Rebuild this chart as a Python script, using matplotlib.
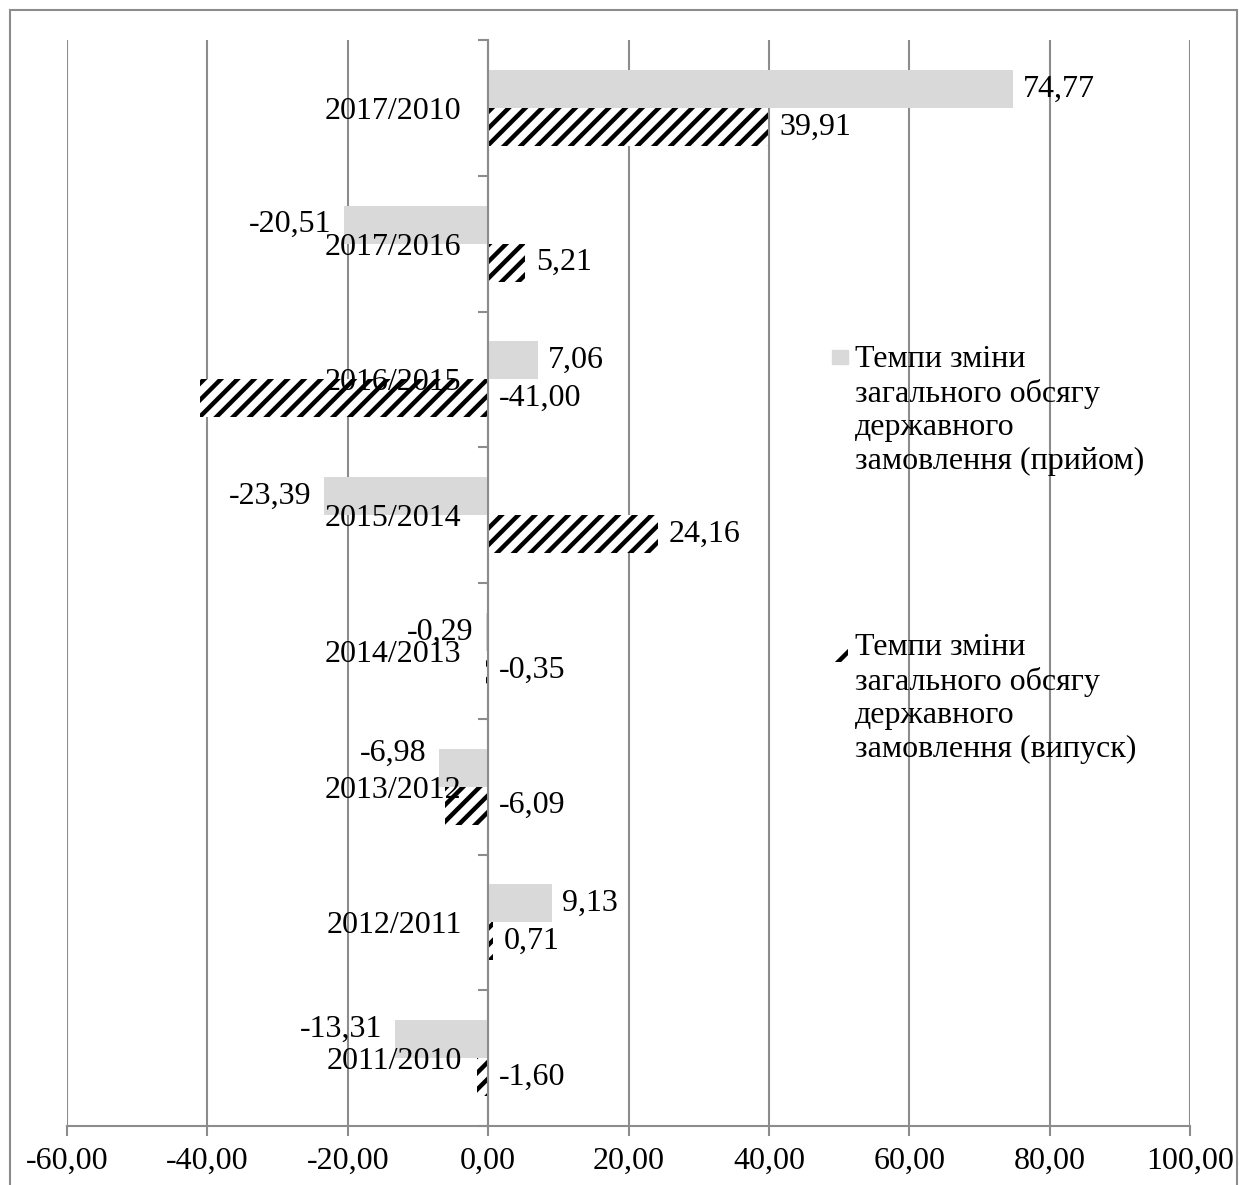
import matplotlib
matplotlib.use('Agg')
import matplotlib.pyplot as plt
from matplotlib.patches import Rectangle
from matplotlib.ticker import FuncFormatter

# Дані (знизу вгору)
periods = ['2011/2010', '2012/2011', '2013/2012', '2014/2013',
           '2015/2014', '2016/2015', '2017/2016', '2017/2010']
intake = [-13.31, 9.13, -6.98, -0.29, -23.39, 7.06, -20.51, 74.77]
graduates = [-1.60, 0.71, -6.09, -0.35, 24.16, -41.00, 5.21, 39.91]
x_ticks = [-60, -40, -20, 0, 20, 40, 60, 80, 100]
legend_labels = ['Темпи зміни\nзагального обсягу\nдержавного\nзамовлення (прийом)',
                 'Темпи зміни\nзагального обсягу\nдержавного\nзамовлення (випуск)']

# зсув підписів прийому вгору (пікселі), як на оригіналі
intake_nudge = [10, 0, 14, 0, 0, 0, 0, 0]

plt.rcParams['font.family'] = ['Liberation Serif', 'DejaVu Serif']
plt.rcParams['hatch.linewidth'] = 3.2

W, H = 1239, 1185
grey = '#8c8c8c'
fs = 23

fig = plt.figure(figsize=(W / 100, H / 100), dpi=100)
ax = fig.add_axes([67 / W, 1 - 1126 / H, (1190 - 67) / W, (1126 - 40) / H])

ypos = list(range(len(periods)))
h = 0.28
ax.barh([y + 0.14 for y in ypos], intake, height=h, color='#d9d9d9', zorder=2)
ax.barh([y - 0.14 for y in ypos], graduates, height=h, color='white',
        hatch='//', edgecolor='black', linewidth=0, zorder=2)

# Підписи значень
fmt = lambda v: f'{v:.2f}'.replace('.', ',')
for y, v, dy in zip(ypos, intake, intake_nudge):
    if v >= 0:
        ax.annotate(fmt(v), (v, y + 0.14), xytext=(7, dy * 0.72), textcoords='offset points',
                    ha='left', va='center', fontsize=fs, zorder=6)
    else:
        ax.annotate(fmt(v), (v, y + 0.14), xytext=(-9, dy * 0.72), textcoords='offset points',
                    ha='right', va='center', fontsize=fs, zorder=6)
for y, v in zip(ypos, graduates):
    ax.annotate(fmt(v), (max(v, 0), y - 0.14), xytext=(8, 0), textcoords='offset points',
                ha='left', va='center', fontsize=fs, zorder=6)

ax.set_xlim(-60, 100)
ax.set_ylim(-0.5, 7.5)
ax.set_xticks(x_ticks)
ax.xaxis.set_major_formatter(FuncFormatter(lambda v, p: fmt(v)))
ax.grid(axis='x', color=grey, linewidth=1.5, zorder=0)
ax.set_axisbelow(True)

ax.set_yticks([y - 0.5 for y in range(len(periods) + 1)])
ax.set_yticklabels([])
ax.set_yticks(ypos, minor=True)
ax.set_yticklabels(periods, minor=True)
ax.tick_params(axis='y', which='major', length=7, width=1.5, color=grey, direction='out')
ax.tick_params(axis='y', which='minor', length=0, pad=19, labelsize=fs)
ax.tick_params(axis='x', length=7, width=1.5, color=grey, labelsize=fs, pad=8)
ax.yaxis.set_zorder(5)

for s in ['top', 'right']:
    ax.spines[s].set_visible(False)
ax.spines['left'].set_position(('data', 0))
for s in ['left', 'bottom']:
    ax.spines[s].set_color(grey)
    ax.spines[s].set_linewidth(1.5)
    ax.spines[s].set_zorder(3)

# Легенда
fig.add_artist(Rectangle((832 / W, 1 - 364 / H), 16 / W, 14 / H,
                         transform=fig.transFigure, color='#d9d9d9'))
fig.add_artist(Rectangle((832 / W, 1 - 662 / H), 16 / W, 14 / H,
                         transform=fig.transFigure, facecolor='white',
                         edgecolor='black', linewidth=0, hatch='/'))
fig.text(855 / W, 1 - 345 / H, legend_labels[0], fontsize=fs, va='top', ha='left')
fig.text(855 / W, 1 - 633 / H, legend_labels[1], fontsize=fs, va='top', ha='left')

# Рамка діаграми
fig.add_artist(Rectangle((10 / W, -0.05), 1227 / W, 1.05 - 10 / H,
                         transform=fig.transFigure, fill=False, edgecolor=grey, linewidth=1.5))

fig.savefig('out.png', dpi=100)
